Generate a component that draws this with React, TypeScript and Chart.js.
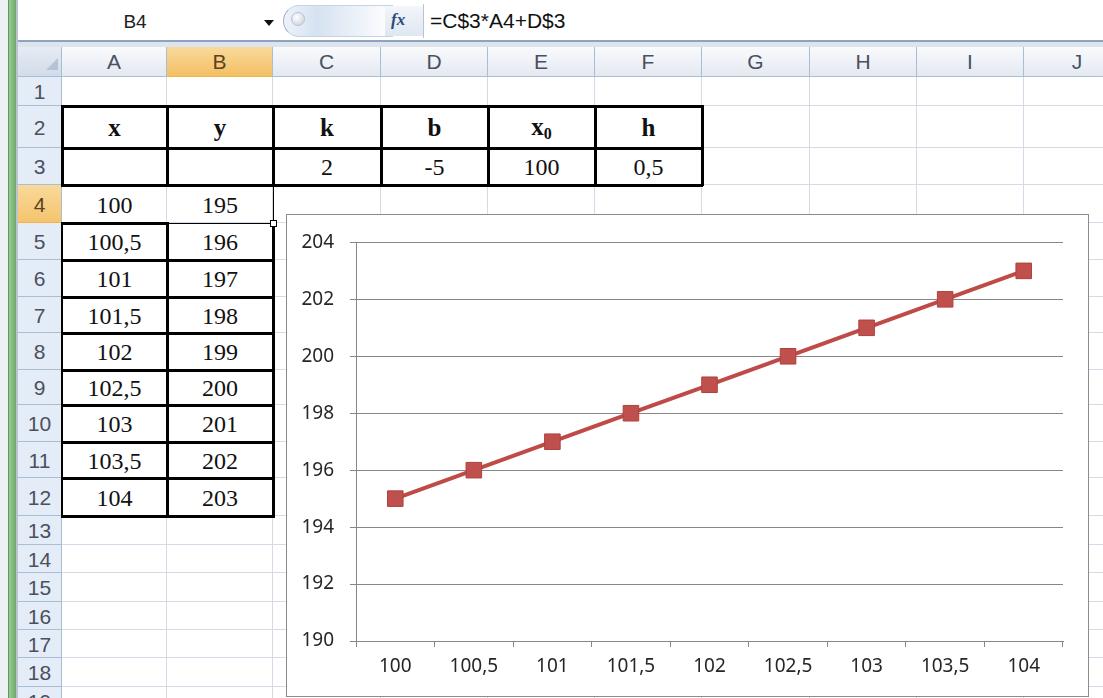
import React, { useEffect, useRef } from "react";
import { Chart, registerables } from "chart.js";

Chart.register(...registerables);

// ---------- data ----------
const xValues = [100, 100.5, 101, 101.5, 102, 102.5, 103, 103.5, 104];
const xLabels = ["100", "100,5", "101", "101,5", "102", "102,5", "103", "103,5", "104"];
const yValues = [195, 196, 197, 198, 199, 200, 201, 202, 203];
const yMin = 190;
const yMax = 204;
const yStep = 2;
const paramNames = ["k", "b", "x", "h"];
const paramValues = ["2", "-5", "100", "0,5"];
const columnLetters = ["A", "B", "C", "D", "E", "F", "G", "H", "I", "J"];
const nameBoxText = "B4";
const formulaText = "=C$3*A4+D$3";

// ---------- layout ----------
const colEdges = [62, 167, 273, 381, 488, 595, 702, 810, 917, 1024, 1131];
const rowEdges = [77, 106, 148, 185, 223, 260, 297, 333, 370, 405, 442, 478, 516, 545, 573, 602, 630, 658, 687, 716];
const sansFont = "'Liberation Sans', Arial, sans-serif";
const serifFont = "'Liberation Serif', 'Times New Roman', serif";
const chartFont = "'Noto Sans', 'DejaVu Sans', sans-serif";
const gridColor = "#d4dae6";
const headerBorder = "#a9bdd3";

const abs = (l: number, t: number, w: number, h: number, extra: React.CSSProperties = {}): React.CSSProperties => ({
  position: "absolute",
  left: l,
  top: t,
  width: w,
  height: h,
  boxSizing: "border-box",
  ...extra,
});

function ChartBox() {
  const ref = useRef<HTMLCanvasElement | null>(null);
  useEffect(() => {
    if (!ref.current) return;
    const axisColor = "#868686";
    const chart = new Chart(ref.current, {
      type: "line",
      data: {
        labels: xLabels,
        datasets: [
          {
            data: yValues,
            borderColor: "#be4b48",
            borderWidth: 4,
            backgroundColor: "#c0504d",
            pointBackgroundColor: "#c0504d",
            pointBorderColor: "#b0413e",
            pointBorderWidth: 1,
            pointStyle: "rect",
            pointRadius: 11,
            tension: 0,
            fill: false,
          },
        ],
      },
      options: {
        responsive: false,
        animation: false,
        events: [],
        layout: { padding: { top: 23, right: 25, left: 0, bottom: 0 } },
        plugins: { legend: { display: false }, tooltip: { enabled: false }, title: { display: false } },
        scales: {
          x: {
            type: "category",
            offset: true,
            grid: { display: true, drawOnChartArea: false, drawTicks: true, tickLength: 6, color: axisColor, offset: true },
            border: { display: true, color: axisColor, width: 1 },
            ticks: { color: "#262626", font: { family: chartFont, size: 19 }, padding: 8, maxRotation: 0, autoSkip: false },
            afterFit: (s: any) => {
              s.height = 55;
            },
          },
          y: {
            min: yMin,
            max: yMax,
            grid: { color: axisColor, tickLength: 6, lineWidth: 1 },
            border: { display: true, color: axisColor, width: 1 },
            ticks: { stepSize: yStep, color: "#262626", font: { family: chartFont, size: 19 }, padding: 16 },
            afterFit: (s: any) => {
              s.width = 69;
            },
          },
        },
      },
    });
    return () => chart.destroy();
  }, []);
  return (
    <div style={abs(286, 214, 803, 483, { border: "1px solid #8c8c8c", background: "#fff", zIndex: 5 })}>
      <canvas ref={ref} width={801} height={481} style={{ display: "block" }} />
    </div>
  );
}

function hLine(key: string, x1: number, x2: number, y: number, w: number) {
  return <div key={key} style={abs(x1, y - Math.floor(w / 2), x2 - x1, w, { background: "#000", zIndex: 3 })} />;
}
function vLine(key: string, x: number, y1: number, y2: number, w: number) {
  return <div key={key} style={abs(x - Math.floor(w / 2), y1, w, y2 - y1, { background: "#000", zIndex: 3 })} />;
}

function cellText(key: string, c: number, r: number, content: React.ReactNode, bold = false) {
  const l = colEdges[c];
  const t = rowEdges[r - 1];
  return (
    <div
      key={key}
      style={abs(l, t, colEdges[c + 1] - l, rowEdges[r] - t, {
        display: "flex",
        alignItems: "center",
        justifyContent: "center",
        fontFamily: serifFont,
        fontSize: bold ? 25 : 24,
        fontWeight: bold ? "bold" : "normal",
        color: "#111",
        zIndex: 2,
        paddingTop: 2,
      })}
    >
      {content}
    </div>
  );
}

export default function App() {
  const els: React.ReactNode[] = [];

  // grid cells
  for (let r = 1; r < rowEdges.length; r++) {
    for (let c = 0; c < colEdges.length - 1; c++) {
      const l = colEdges[c];
      const t = rowEdges[r - 1];
      els.push(
        <div
          key={`cell-${r}-${c}`}
          style={abs(l, t, colEdges[c + 1] - l, rowEdges[r] - t, {
            borderRight: `1px solid ${gridColor}`,
            borderBottom: `1px solid ${gridColor}`,
            background: "#fff",
          })}
        />
      );
    }
  }

  // row headers
  for (let r = 1; r < rowEdges.length; r++) {
    const t = rowEdges[r - 1];
    const sel = r === 4;
    els.push(
      <div
        key={`rh-${r}`}
        style={abs(18, t, 44, rowEdges[r] - t, {
          background: sel ? "linear-gradient(#f9d99b, #f4c46c)" : "#e4ecf7",
          borderBottom: `1px solid ${sel ? "#f0b450" : headerBorder}`,
          borderRight: `1px solid ${headerBorder}`,
          display: "flex",
          alignItems: "center",
          justifyContent: "center",
          fontFamily: sansFont,
          fontSize: 21,
          color: sel ? "#5a4320" : "#4a5060",
          paddingTop: 2,
        })}
      >
        {r}
      </div>
    );
  }

  // column headers
  for (let c = 0; c < columnLetters.length; c++) {
    const l = colEdges[c];
    const sel = c === 1;
    els.push(
      <div
        key={`ch-${c}`}
        style={abs(l, 47, colEdges[c + 1] - l, 30, {
          background: sel ? "linear-gradient(#f9d99b, #f3c064)" : "linear-gradient(#f9fafc, #e4e9f1)",
          borderRight: `1px solid ${headerBorder}`,
          borderBottom: `1px solid ${sel ? "#f0b450" : headerBorder}`,
          display: "flex",
          alignItems: "center",
          justifyContent: "center",
          fontFamily: sansFont,
          fontSize: 21,
          color: sel ? "#5a4320" : "#4a5060",
        })}
      >
        {columnLetters[c]}
      </div>
    );
  }

  // top table
  const topCols = [0, 1, 2, 3, 4, 5];
  els.push(cellText("h-x", 0, 2, "x", true));
  els.push(cellText("h-y", 1, 2, "y", true));
  paramNames.forEach((p, i) => {
    const content =
      p === "x" ? (
        <span>
          x<sub style={{ fontSize: 16, verticalAlign: "-4px" }}>0</sub>
        </span>
      ) : (
        p
      );
    els.push(cellText(`h-${i}`, 2 + i, 2, content, true));
    els.push(cellText(`v-${i}`, 2 + i, 3, paramValues[i]));
  });
  [106, 148, 185].forEach((y, i) => els.push(hLine(`th-${i}`, 61, 703, y, 3)));
  topCols.concat([6]).forEach((c) => els.push(vLine(`tv-${c}`, colEdges[c], 105, 186, 3)));

  // x / y table
  xLabels.forEach((lab, i) => {
    els.push(cellText(`xa-${i}`, 0, 4 + i, lab));
    els.push(cellText(`yb-${i}`, 1, 4 + i, String(yValues[i])));
  });
  // row 4 borders
  els.push(hLine("r4a", 61, 166, 223, 3));
  els.push(hLine("r4b", 167, 274, 223, 1));
  els.push(vLine("r4r", 273, 185, 223, 1));
  // rows 5..12
  els.push(vLine("lv0", 62, 222, 517, 2));
  els.push(vLine("lv1", 167, 222, 517, 3));
  els.push(vLine("lv2", 273, 222, 517, 3));
  for (let r = 5; r <= 12; r++) {
    els.push(hLine(`lh-${r}`, 61, 275, rowEdges[r], 3));
  }
  // fill handle
  els.push(<div key="fh" style={abs(270, 220, 7, 7, { background: "#fff", border: "1px solid #000", zIndex: 4 })} />);

  return (
    <div style={{ position: "absolute", left: 0, top: 0, width: 1103, height: 698, overflow: "hidden", background: "#fff" }}>
      {/* left strip */}
      <div style={abs(0, 0, 8, 698, { background: "#eef1f4" })} />
      <div style={abs(8, 0, 8, 698, { background: "linear-gradient(90deg, #9ccb98, #6fa86b)", borderLeft: "1px solid #5f9a5c" })} />
      <div style={abs(16, 0, 2, 698, { background: "#b9c4d0" })} />

      {/* formula bar */}
      <div style={abs(18, 0, 1085, 41, { background: "#fff" })} />
      <div style={abs(100, 8, 70, 28, { fontFamily: sansFont, fontSize: 19, color: "#222", display: "flex", alignItems: "center", justifyContent: "center" })}>
        {nameBoxText}
      </div>
      <div
        style={{
          position: "absolute",
          left: 264,
          top: 20,
          width: 0,
          height: 0,
          borderLeft: "5px solid transparent",
          borderRight: "5px solid transparent",
          borderTop: "6px solid #111",
        }}
      />
      <div
        style={abs(283, 5, 110, 32, {
          borderRadius: "16px 0 0 16px",
          background: "linear-gradient(90deg, #eef3fa 0%, #d6e2f1 30%, #ffffff 100%)",
          borderLeft: "1px solid #9fb3cb",
          borderTop: "1px solid #c5d3e4",
          borderBottom: "1px solid #c5d3e4",
        })}
      />
      <div style={abs(291, 12, 14, 14, { borderRadius: "50%", background: "radial-gradient(circle at 40% 35%, #ffffff, #c5ccd6)", border: "1px solid #b8c2cf" })} />
      <div style={abs(385, 6, 38, 30, { background: "linear-gradient(#f3f6fa, #dfe7f1)" })} />
      <div style={abs(391, 6, 24, 28, { fontFamily: serifFont, fontStyle: "italic", fontWeight: "bold", fontSize: 17, color: "#2c4a78", display: "flex", alignItems: "center" })}>
        fx
      </div>
      <div style={abs(423, 4, 1, 34, { background: "#b9c4d0" })} />
      <div style={abs(430, 6, 300, 30, { fontFamily: sansFont, fontSize: 21, color: "#111", display: "flex", alignItems: "center" })}>
        {formulaText}
      </div>
      <div style={abs(18, 40, 1085, 2, { background: "#8ea4be" })} />
      <div style={abs(18, 42, 1085, 5, { background: "#dde4ee" })} />

      {/* corner */}
      <div style={abs(18, 47, 44, 30, { background: "linear-gradient(#e6ecf4, #d2dbe8)", borderRight: `1px solid ${headerBorder}`, borderBottom: `1px solid ${headerBorder}` })} />
      <div
        style={{
          position: "absolute",
          left: 46,
          top: 58,
          width: 0,
          height: 0,
          borderLeft: "12px solid transparent",
          borderBottom: "12px solid #b6c3d4",
        }}
      />

      {els}
      <ChartBox />
    </div>
  );
}
